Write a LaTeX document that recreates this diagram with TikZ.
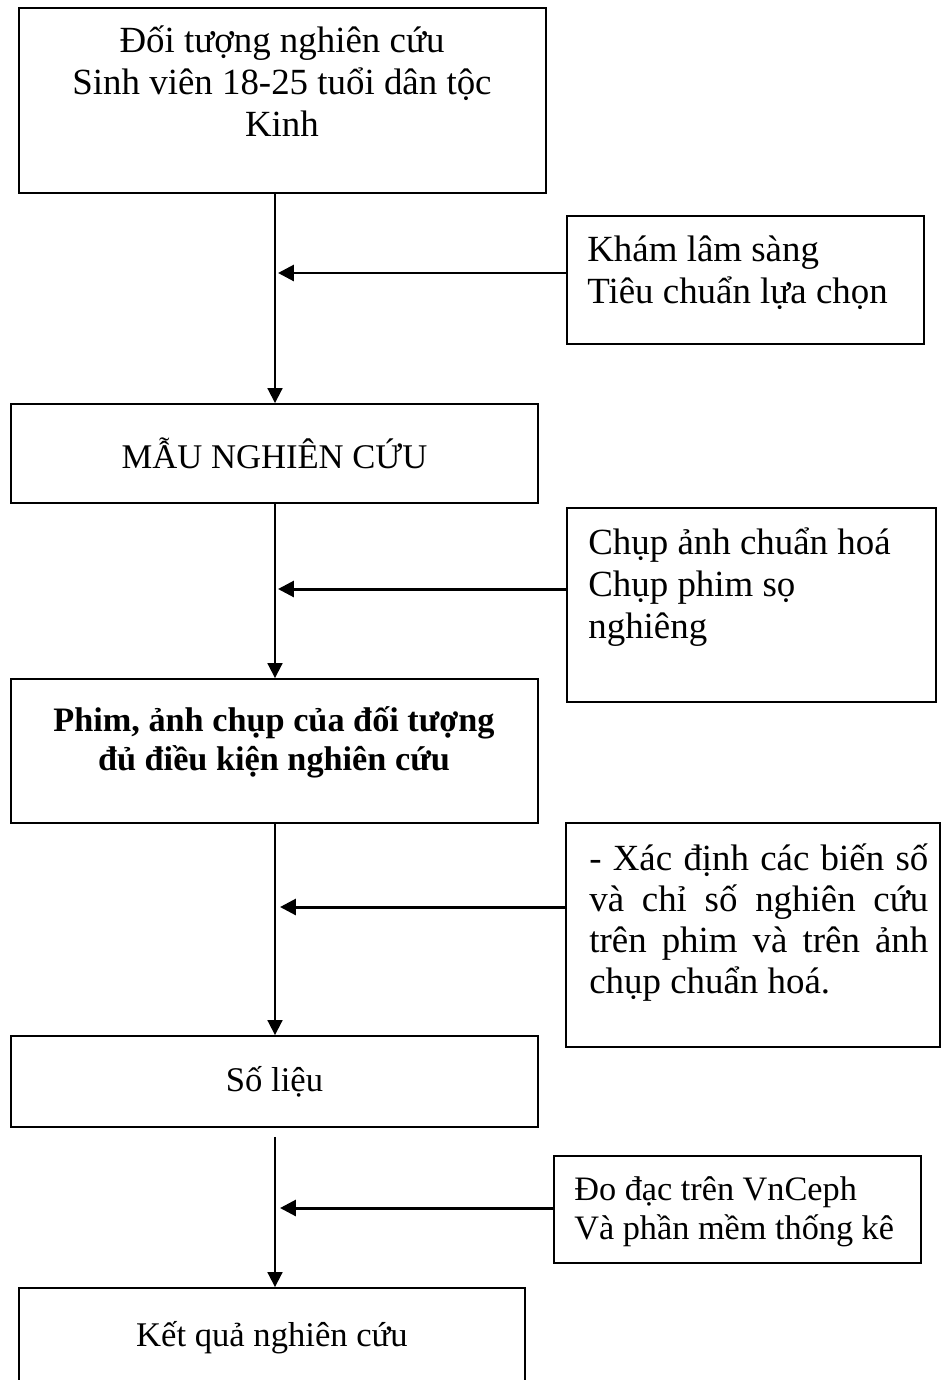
\documentclass[tikz,border=0pt]{standalone}
\usepackage{fontspec}
\setmainfont{Liberation Serif}
\usetikzlibrary{arrows.meta,positioning}

\begin{document}
\begin{tikzpicture}[x=0.02cm,y=-0.02cm,
    font=\fontsize{21}{24}\selectfont,
    frame/.style={draw, line width=1.1pt, inner sep=0pt},
    txt/.style={inner sep=0pt, align=center},
    small/.style={font=\fontsize{19.7}{22}\selectfont},
    sidetxt/.style={inner sep=0pt, align=left, anchor=north west},
    mainarrow/.style={line width=1.1pt, -{Triangle[length=8.5pt,width=8.5pt]}},
    sidearrow/.style={line width=1.7pt, -{Triangle[length=9pt,width=9pt]}}]

    \useasboundingbox (0,0) rectangle (943,1380);

    % main column
    \node[frame, minimum width=10.54cm, minimum height=3.7cm] (doituong) at (282.5,100.5) {};
    \node[frame, small, minimum width=10.54cm, minimum height=1.98cm] (mau) at (274.5,453.5) {MẪU NGHIÊN CỨU};
    \node[frame, minimum width=10.54cm, minimum height=2.88cm] (phim) at (274.5,751) {};
    \node[frame, small, minimum width=10.54cm, minimum height=1.82cm] (solieu) at (274.5,1081.5) {Số liệu};
    \node[frame, minimum width=10.12cm, minimum height=2.24cm] (ketqua) at (272,1344) {};

    \node[txt, anchor=north] (doituongtxt) at (282,25) {Đối tượng nghiên cứu\\Sinh viên 18-25 tuổi dân tộc\\Kinh};
    \node[txt, font=\fontsize{19.5}{22}\selectfont\bfseries] (phimtxt) at (274,742) {Phim, ảnh chụp của đối tượng\\đủ điều kiện nghiên cứu};
    \node[txt, small] (ketquatxt) at (272,1338) {Kết quả nghiên cứu};

    % side boxes
    \node[frame, minimum width=7.14cm, minimum height=2.56cm] (khamls) at (745.5,280) {};
    \node[frame, minimum width=7.38cm, minimum height=3.88cm] (chupanh) at (751.5,605) {};
    \node[frame, minimum width=7.48cm, minimum height=4.48cm] (xacdinh) at (753,935) {};
    \node[frame, minimum width=7.34cm, minimum height=2.14cm] (dodac) at (737.5,1209.5) {};

    \node[sidetxt] (khamlstxt) at (587,235) {Khám lâm sàng\\Tiêu chuẩn lựa chọn};
    \node[sidetxt] (chupanhtxt) at (588,527) {Chụp ảnh chuẩn hoá\\Chụp phim sọ\\nghiêng};
    \node[sidetxt, text width=6.78cm, align=justify, font=\fontsize{21}{23.5}\selectfont]
        (xacdinhtxt) at (589,843) {\hyphenpenalty=10000 - Xác định các biến số\linebreak và chỉ số nghiên cứu\linebreak trên phim và trên ảnh\linebreak chụp chuẩn hoá.};
    \node[sidetxt, font=\fontsize{19.5}{22.5}\selectfont] (dodactxt) at (574,1176) {Đo đạc trên VnCeph\\Và phần mềm thống kê};

    % connectors
    \coordinate (spine) at (275,0);
    \coordinate (tipA) at (278,273);
    \coordinate (tipB) at (278,589);
    \coordinate (tipC) at (280,907);
    \coordinate (tipD) at (280,1208);

    \draw[mainarrow] (doituong.south -| spine) -- (mau.north -| spine);
    \draw[mainarrow] (mau.south -| spine) -- (phim.north -| spine);
    \draw[mainarrow] (phim.south -| spine) -- (solieu.north -| spine);
    \draw[mainarrow, shorten <=5pt] (solieu.south -| spine) -- (ketqua.north -| spine);

    \draw[sidearrow] (khamls.west |- tipA) -- (tipA);
    \draw[sidearrow] (chupanh.west |- tipB) -- (tipB);
    \draw[sidearrow] (xacdinh.west |- tipC) -- (tipC);
    \draw[sidearrow] (dodac.west |- tipD) -- (tipD);
\end{tikzpicture}
\end{document}
